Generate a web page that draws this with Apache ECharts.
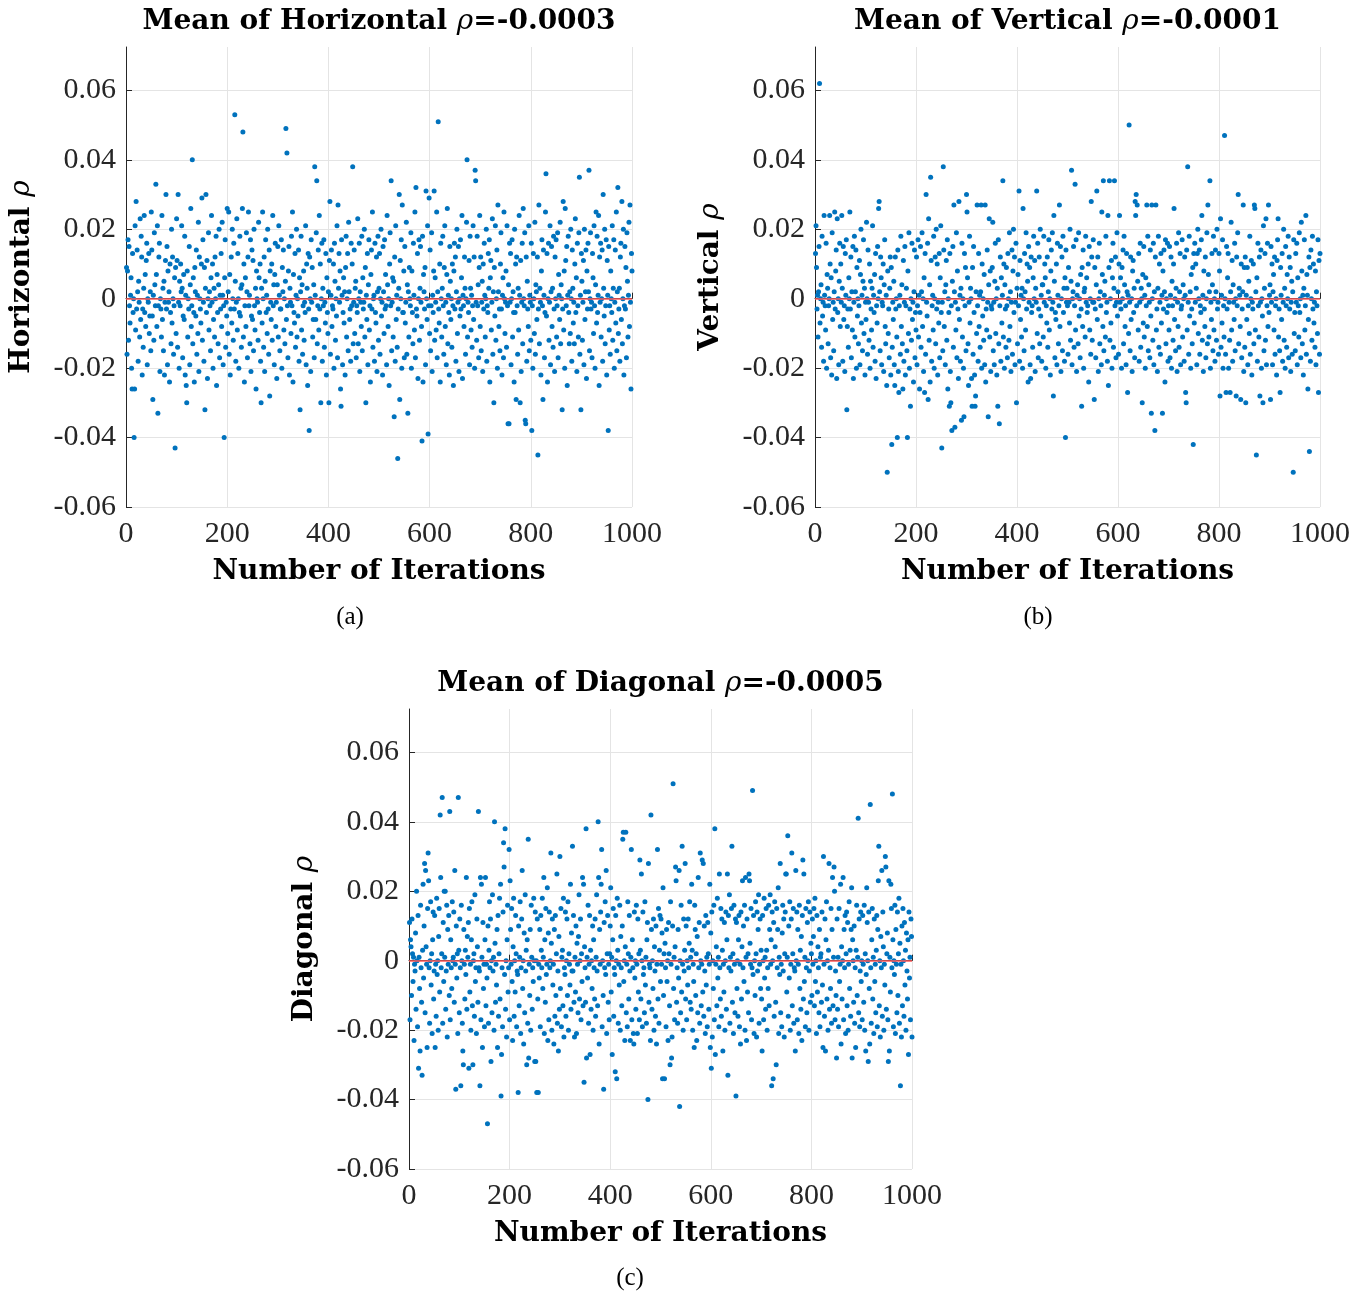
<!DOCTYPE html>
<html>
<head>
<meta charset="utf-8">
<script src="https://cdn.jsdelivr.net/npm/echarts@6/dist/echarts.min.js"></script>
<style>
  html, body { margin: 0; background: #fff; }
  #chart { width: 1370px; height: 1295px; }
</style>
</head>
<body>
<div id="chart"></div>
<script>
// rho per iteration (iteration = index + 1), values in units of 1e-3
var horizontalRho = [
  9,-16,8,17,-12,15,-2,-7,1,6,-20,-26,13,-4,0,-40,-26,21,-9,28,-3,14,2,-18,5,-1,-11,23,-6,18,12,-22,-3,-14,3,24,-4,7,-8,11,16,-19,0,-1,13,-10,-5,2,-15,25,
  14,-5,-29,1,-12,19,4,-2,33,7,-8,21,-33,-2,12,16,-21,0,-3,-11,24,-6,3,-15,5,-22,-1,11,30,-3,15,-19,8,-1,2,-24,10,-4,-13,20,-7,12,0,-16,-2,6,-43,9,-10,23,
  11,-14,30,-1,-20,5,-2,10,2,21,3,-17,-5,7,-6,18,-22,1,-25,-30,8,-11,0,-3,15,-19,4,26,-8,-2,40,-13,6,-4,-24,9,2,-5,14,-16,1,-10,22,-21,12,0,-3,-7,10,29,
  -12,17,-1,-18,9,-32,3,30,-4,11,-23,0,19,-9,2,-2,-15,6,24,-1,10,-20,-6,3,-11,12,0,18,-25,7,-4,-13,4,20,-17,1,-3,13,-8,22,1,-19,-2,-40,6,17,-14,-1,-5,26,
  -10,2,25,-16,7,-22,-3,12,-7,20,0,-12,16,-3,53,5,-18,-1,23,-9,13,0,-20,-4,18,-5,3,-14,4,26,48,-11,10,-24,-2,6,-8,19,2,-17,12,25,-2,1,-13,17,-21,-5,14,-6,
  11,-15,20,-2,-9,3,-26,8,0,-1,-12,22,6,-4,10,-18,-30,3,-7,25,0,-14,12,-21,5,17,-4,1,-10,20,-3,-16,14,-28,8,-1,-6,10,-12,24,-2,4,-19,7,16,-8,-1,-23,4,15,
  -11,21,1,-15,-3,-3,17,-20,9,2,14,-9,0,-13,5,49,-6,42,-2,-17,8,15,-22,3,-1,-10,18,-2,25,-24,7,-4,-7,13,-14,1,20,-11,0,-5,14,-18,6,-32,2,18,-9,4,-16,-2,
  8,-12,-1,-4,21,-19,10,3,-25,13,-3,-38,12,0,-21,17,-1,9,-11,-6,4,-17,38,1,-6,19,34,-13,-2,14,-9,24,-3,10,-30,0,16,-18,3,-2,17,-14,-1,-7,13,-22,6,-4,-10,2,
  -30,11,28,-16,1,14,-8,-2,-3,10,-20,16,5,-12,0,-5,21,-17,27,3,13,-1,8,-26,-31,17,1,-19,-4,6,-7,2,-22,9,18,-11,0,13,-15,22,2,-6,-3,-18,16,-2,10,38,-13,-1,
  14,-10,3,5,-17,-2,-4,23,-13,0,16,-21,2,-1,-8,18,-15,6,-3,-1,20,-11,9,-30,1,-6,13,-19,4,17,-9,-2,-24,7,14,-3,25,-14,0,1,-18,16,-4,-7,12,-21,2,18,-12,3,
  13,-16,0,20,-5,-1,-22,15,2,-10,17,-3,7,-2,-19,24,4,-8,0,-25,10,19,-2,34,-15,-1,6,-11,5,-34,12,-18,21,-6,1,-14,-46,-3,3,30,-29,11,0,17,-20,27,-4,-4,8,-17,
  15,-7,-1,22,-16,4,-33,2,-11,9,0,-2,19,-20,8,-4,-13,16,1,-9,25,-17,32,-3,-5,13,-23,0,17,-12,3,15,-1,-8,-41,18,-24,7,2,-3,9,-19,31,0,-6,21,-39,-2,29,-10,
  14,-15,-2,19,-21,1,-4,8,31,-12,6,-1,-9,25,-17,2,51,-3,-7,10,-24,16,0,-11,3,18,-2,-16,9,21,-8,-1,-19,7,26,-13,1,-4,-22,15,5,-6,0,-14,10,-2,-25,8,16,-3,
  12,-18,2,20,-10,-1,15,-21,0,-5,17,-3,6,24,-23,1,-2,-8,12,3,-16,0,22,40,-11,-1,-4,11,-19,18,3,-9,1,-14,-2,21,-6,12,-20,37,34,-1,-12,18,-2,4,-17,9,24,-8,
  12,-15,-1,5,-21,10,-3,16,1,-11,0,20,-18,-2,-4,13,3,17,-24,6,11,-9,-1,23,-16,2,-30,9,-5,21,-12,0,14,-20,27,2,-8,-3,-15,10,19,-3,-22,1,6,-17,25,0,-10,-1,
  8,-14,21,-2,-36,4,-36,16,-1,13,-19,0,17,-11,2,-4,-24,20,-4,10,-29,12,-2,-16,3,-9,24,1,-30,11,-21,-1,16,-13,26,0,-2,19,-35,-36,12,-18,5,-3,-8,21,-15,1,-1,-12,
  16,-38,-2,-20,13,0,-10,22,-16,4,2,-6,12,-45,-3,27,-13,3,-1,-22,8,17,-2,-29,14,1,-17,-4,25,36,-5,13,-24,0,16,-12,-1,21,-19,2,15,-8,3,-14,18,-3,-21,12,0,17,
  -11,-2,19,-17,7,1,-6,22,-13,4,0,-32,-3,28,-9,8,-20,26,11,-2,15,-25,1,18,-4,-13,2,-10,20,0,-18,14,3,-7,-1,-13,10,23,-4,6,-21,16,-2,-11,19,35,-16,1,-32,13,
  5,-12,-1,11,-19,20,-6,2,14,-23,8,-3,16,2,37,-15,0,19,-3,-1,-17,13,6,-10,21,-2,-20,4,25,-7,18,-4,1,24,-25,12,-1,16,-11,0,14,-18,30,3,-5,20,-13,-2,17,-22,
  11,1,-38,15,-9,-2,-16,8,0,-4,21,-12,3,17,-20,-1,14,-7,25,-15,2,32,-10,-3,3,-18,12,16,-6,28,-13,0,20,-22,-2,15,-3,9,-17,19,5,-11,1,22,-8,27,-1,-26,13,8
];

var verticalRho = [
  13,21,9,-3,1,-11,2,15,62,-7,0,4,-14,18,-5,-1,-18,24,1,-2,-9,16,-20,7,3,-13,-2,0,24,10,-17,6,-22,19,-6,-1,-15,2,25,-3,8,14,-23,23,-4,0,-19,5,16,-8,
  10,-1,24,3,-18,15,-6,-2,-21,13,1,17,-32,-8,-3,-14,6,0,25,-3,12,-17,2,-9,15,-23,-1,18,-11,2,14,-20,9,-5,0,-13,-2,11,-19,7,20,-7,1,-15,5,17,-10,3,-22,-1,
  -6,22,0,-16,14,-1,-12,10,-20,5,-3,-9,3,21,-14,1,-4,7,-18,13,-23,-2,-7,15,0,26,28,2,-15,12,6,-19,-1,-2,10,-21,4,17,-8,-13,1,-25,-50,8,-10,-3,-17,3,12,-22,
  9,-42,-14,-1,-6,5,-19,-25,12,-3,0,-11,-40,14,-21,-27,-2,1,-16,18,-8,4,-13,-26,11,-18,-1,15,-22,-2,3,-15,-40,8,-10,19,-20,-3,-31,0,-12,16,-6,-1,-24,2,14,-17,-4,-9,
  12,-19,-2,17,-11,1,-26,-4,15,-14,2,19,-8,0,-21,6,-27,13,-16,30,-1,-5,16,-29,23,-12,4,-24,35,11,-18,-2,1,-9,18,-20,0,12,-13,20,-3,10,-22,-1,-7,13,-17,6,21,-4,
  -43,-1,-15,38,14,-8,2,-19,4,11,-12,17,-26,0,-4,-31,13,-21,-30,-2,-38,5,15,-14,27,2,-37,-1,-9,19,-17,8,-3,-23,28,-6,1,-18,3,-35,16,-11,0,-20,-34,13,-2,9,-15,30,
  25,6,-13,-25,-1,18,-7,3,0,-23,-31,9,-16,15,-4,-22,-31,-28,2,-10,27,-2,-18,13,-8,1,-14,2,27,-20,10,-5,0,-12,7,-19,27,-24,-3,-9,14,-1,-34,4,23,-11,8,-21,-2,-3,
  9,22,-15,-1,-19,5,16,-10,0,-22,3,-31,17,-13,-36,-2,12,-18,6,-7,1,34,-11,10,-20,4,-3,-14,9,-2,-17,13,0,-12,19,-8,2,-21,-1,14,-16,8,20,-4,12,-19,-1,16,-30,3,
  -13,7,-2,31,-18,11,-6,1,-11,3,-20,26,0,-15,13,2,-9,19,-3,10,5,-24,15,-1,9,-19,-23,12,-4,-2,-14,6,18,0,11,-21,3,-1,31,-10,16,-17,-3,12,-13,20,-5,1,-18,4,
  4,-11,18,-1,10,6,-20,-2,-7,12,-14,2,17,-9,0,-22,8,14,-3,19,-1,-28,24,5,-17,-4,-6,10,-19,16,1,-13,-2,27,-8,15,-21,0,12,-15,18,-4,3,-18,6,-40,14,-1,3,-2,
  -16,9,-1,-7,20,-12,5,37,-19,0,2,15,-14,-2,33,-9,17,-21,1,4,-13,19,-5,0,-17,7,-3,-31,9,-8,14,-20,2,3,-11,18,-1,6,-4,-2,10,-24,15,-9,0,-16,28,12,-12,-1,
  17,-1,-29,9,-3,-17,4,31,-6,12,-21,0,16,-13,2,-2,-19,25,7,-8,34,-15,1,5,-11,18,-4,-1,-18,24,-25,9,34,-12,0,-7,11,-20,6,16,-14,3,34,-2,12,-17,-1,19,-5,2,
  -16,10,24,-1,6,-3,-20,9,0,14,-13,18,4,-8,-2,-19,13,2,-27,1,-10,50,-1,-15,12,-6,0,-21,8,11,-4,3,-17,28,24,30,-2,27,5,-9,13,-18,-1,16,-14,3,0,-30,7,-7,
  15,-11,1,-20,6,-2,27,-8,18,-15,4,-1,-17,14,-5,-33,27,0,-12,16,-19,2,-38,12,27,-9,-3,-21,3,18,-14,10,-1,-16,13,-7,1,-33,8,-3,14,2,-24,17,-13,0,-4,16,-18,-2,
  -9,15,-17,1,12,-20,5,-2,-12,10,26,-6,0,-15,3,16,-21,-1,-8,19,-14,2,13,-19,-3,-2,17,-11,4,0,-18,12,1,-27,-30,14,-9,38,-1,-16,18,-5,2,-20,7,-3,-13,9,-42,13,
  -7,16,-1,10,3,-19,13,20,-10,0,14,-16,-2,-4,17,24,-12,1,-21,8,-3,-8,12,-17,0,19,-13,27,7,-11,2,34,-20,-1,-6,13,4,-15,18,-9,0,-18,14,2,-12,20,-3,-1,-16,13,
  8,-28,23,-14,1,-7,17,-20,-2,-11,47,0,-16,-27,15,-3,6,13,-20,-1,-12,-27,2,22,-9,11,-18,4,-1,-6,16,-15,0,-28,12,-2,19,30,-13,3,1,-8,-29,10,-17,-3,2,27,-21,9,
  -14,12,-30,1,-6,9,-19,-2,5,-10,18,-16,0,11,-22,-1,-3,10,-13,27,26,-9,2,-45,6,-18,16,-2,-11,12,-28,-1,14,-20,0,-5,-30,21,-15,3,13,-12,23,-19,-2,16,-8,27,-4,1,
  4,-29,15,-1,10,-19,2,7,-9,12,-16,-2,0,-22,11,17,23,-11,-3,-15,-27,9,1,-6,13,-18,-1,20,-12,3,-20,15,-2,-14,7,0,18,-17,12,-3,9,-21,-1,5,-16,2,-50,17,-10,-4,
  -15,13,-1,16,-19,6,-2,-11,19,-4,0,-17,22,8,-13,1,-22,3,17,-9,-2,24,-16,7,1,-26,-6,12,-44,9,-18,14,0,-12,18,-3,10,-7,-1,-14,8,-19,2,-2,-10,17,-27,11,-16,13
];

var diagonalRho = [
  11,-17,6,4,-10,12,2,-6,1,-23,-1,-3,8,-14,20,0,-19,13,-31,1,-8,-26,16,-2,-12,-33,3,22,-5,10,28,-15,26,4,-1,-25,15,31,23,-2,-18,0,17,-7,2,-21,6,14,-11,-3,
  13,-25,-1,-16,18,-4,0,-20,7,15,-9,42,24,-2,2,47,-18,11,-6,20,1,20,-14,-3,16,-22,9,-1,13,-10,43,-17,6,-2,-8,17,0,1,14,-12,26,-1,-37,10,-5,2,-21,47,3,-15,
  12,-2,-36,16,0,-18,-26,-30,9,-1,-11,3,-4,24,-14,7,1,11,-31,15,-9,-1,-20,6,17,-13,-30,0,2,-16,19,-6,-2,-21,12,4,-12,43,-2,-3,-36,24,-17,22,1,-25,11,-8,-1,-19,
  6,24,-13,-1,-5,-47,10,-18,3,17,-2,12,-29,0,-15,19,-3,1,-20,40,5,-12,-1,-7,9,-25,13,-16,2,18,-11,22,-39,-27,-2,-19,14,34,27,-4,38,-14,0,-22,6,16,-9,-2,32,-17,
  23,9,-1,15,-6,-23,4,18,-16,0,-9,13,2,-19,-3,-4,-38,10,-13,1,17,-21,-2,12,26,-8,0,-24,8,-15,19,-3,3,-30,6,-18,35,-28,-1,-10,9,-20,16,1,-14,-2,-6,18,0,-29,
  14,-29,0,-38,12,-11,-38,-1,-5,9,-19,13,3,-2,18,-8,1,24,-21,6,-12,15,-4,-1,21,-23,8,-17,14,-2,0,31,5,-20,12,-7,-1,-24,9,-16,13,-10,2,25,-18,-3,-26,7,-14,30,
  -8,15,-19,1,3,-13,18,-22,-2,-4,14,-16,0,12,-10,17,-20,2,-1,-7,22,-14,8,-3,33,-3,13,-12,-22,1,-9,10,-21,5,-1,-15,7,19,-11,0,12,-17,2,-6,24,-13,22,-35,4,-2,
  -12,38,-28,1,-5,16,-18,-1,13,-27,3,-14,0,-8,10,-20,6,-2,-11,12,-16,1,19,-3,-13,40,24,-24,9,-1,14,22,32,-19,0,-10,-37,11,-2,17,-4,26,-21,2,13,-12,-1,-17,2,10,
  21,-9,1,-27,6,15,-16,-2,-4,-32,13,0,-34,18,3,-18,-1,-7,16,-20,7,-2,-13,10,35,37,-6,0,-23,4,37,-15,-1,-19,17,2,-11,13,-3,-23,1,32,-17,6,-2,-21,-24,14,-5,0,
  -14,16,-1,-21,12,-9,2,-17,29,3,-11,25,0,-19,14,-4,-2,-15,17,-7,1,-18,6,11,-40,28,-12,-1,-2,-23,42,9,-14,0,-8,12,-20,4,-3,-16,10,-24,-1,32,-11,15,-18,3,13,-6,
  12,-1,8,-34,21,-10,2,-34,5,-2,-19,9,-6,0,-23,11,2,-13,-30,17,-1,-28,-22,10,51,-8,1,-17,4,27,23,-12,-2,-18,9,-5,26,-42,0,-15,16,-9,33,-1,-20,12,-3,3,28,-11,
  10,-17,0,-7,12,-2,5,17,-12,1,-14,22,3,-20,-1,-6,-25,16,9,-10,2,-23,7,-15,24,-2,11,-18,31,0,-13,-1,29,-9,28,-16,10,-3,-21,13,-7,1,-19,11,2,-14,-1,22,-25,8,
  -31,14,-22,0,-8,16,-17,38,-27,-1,4,-13,18,-5,1,-19,25,-2,-11,15,-16,12,3,-26,-1,-9,11,-20,0,14,-14,6,25,-33,13,-2,19,-18,1,-3,15,33,-12,2,-21,16,-1,-15,12,-39,
  11,-8,0,-16,6,13,-19,-1,-24,14,-11,4,23,-2,10,-6,16,-20,24,1,-23,12,-9,2,-15,25,23,5,-1,15,-17,-2,49,-4,13,-21,0,-10,17,2,-22,14,-3,9,19,-18,-1,12,-8,3,
  -11,-26,13,0,-17,18,-5,1,-14,15,3,-20,-2,-8,16,-13,9,19,-1,6,-36,14,0,-34,11,-16,17,4,-12,-30,15,-2,9,21,-21,1,-4,28,-15,-1,-19,8,16,-3,12,-22,2,14,25,25,
  -9,1,36,-16,10,-5,17,-20,-1,12,31,-13,2,15,-18,-2,-3,-26,26,0,14,-17,9,-1,-21,16,-8,3,-14,7,-23,13,29,-11,25,-6,1,-19,15,-2,-15,11,0,17,-20,-3,14,-12,5,2,
  -10,12,-1,7,15,-13,18,-6,0,-21,13,-9,4,-2,-15,9,-19,1,2,-12,14,-7,-25,30,-1,-16,12,-26,6,17,-11,0,-20,3,28,-14,-2,-8,15,-18,9,24,-13,1,27,20,-17,-3,-10,-28,
  12,-14,1,-19,15,-6,-1,22,-24,4,-11,0,24,-17,9,-2,13,-21,2,14,-13,11,-20,-1,17,-8,3,-16,9,21,-28,6,0,-12,10,-18,-2,-25,3,16,-10,1,41,-15,12,-19,-3,14,-6,0,
  -17,13,-1,-12,16,-20,2,-26,-4,21,11,0,-29,14,-8,-24,45,-2,-18,6,15,-11,1,-21,12,-6,-1,-15,3,13,-19,9,23,33,-13,0,-22,7,-2,26,-16,14,4,-20,-1,-7,30,27,-14,2,
  8,-17,-29,23,-26,1,-9,22,15,-2,48,6,-19,0,-4,16,-21,9,-1,-15,14,-10,2,18,-18,5,-36,-1,-22,10,-13,15,0,-16,11,-7,3,-20,8,-3,-11,6,-27,14,-5,1,-17,12,7,-22
];

var panelNames = ['Horizontal', 'Vertical', 'Diagonal'];
var meanRho = ['-0.0003', '-0.0001', '-0.0005'];
var subCaptions = ['(a)', '(b)', '(c)'];
var xTicks = [0, 200, 400, 600, 800, 1000];
var yTicks = [-0.06, -0.04, -0.02, 0, 0.02, 0.04, 0.06];

var allRho = [horizontalRho, verticalRho, diagonalRho];

// panel layout (pixels)
var grids = [
  { left: 126, top: 47, width: 506, height: 460 },
  { left: 815, top: 47, width: 505, height: 460 },
  { left: 409, top: 709, width: 503, height: 460 }
];
var captionPos = [[350, 617], [1038, 617], [630, 1278]];

var axisColor = '#262626';
var boldFont = 'DejaVu Serif';
var tickFont = 'Liberation Serif';

var rich = {
  b: { fontFamily: boldFont, fontWeight: 'bold', fontSize: 28, color: '#000' },
  i: { fontFamily: boldFont, fontStyle: 'italic', fontWeight: 'normal', fontSize: 28, color: '#000' }
};

var chart = echarts.init(document.getElementById('chart'), null, { renderer: 'canvas' });

var option = {
  animation: false,
  backgroundColor: '#fff',
  title: [],
  grid: [],
  xAxis: [],
  yAxis: [],
  series: [],
  graphic: []
};

allRho.forEach(function (rho, g) {
  var gr = grids[g];
  option.grid.push({
    left: gr.left, top: gr.top, width: gr.width, height: gr.height,
    containLabel: false, outerBoundsMode: 'none'
  });

  option.title.push({
    text: '{b|Mean of ' + panelNames[g] + ' }{i|ρ}{b|=' + meanRho[g] + '}',
    left: gr.left + gr.width / 2,
    top: gr.top - 39,
    padding: 0,
    textAlign: 'center',
    textStyle: { rich: rich }
  });

  option.xAxis.push({
    gridIndex: g,
    type: 'value',
    min: xTicks[0],
    max: xTicks[xTicks.length - 1],
    interval: 200,
    name: 'Number of Iterations',
    nameLocation: 'middle',
    nameGap: 51,
    nameTextStyle: { fontFamily: boldFont, fontWeight: 'bold', fontSize: 28, color: '#000' },
    axisLine: { show: true, lineStyle: { color: axisColor, width: 1 } },
    axisTick: { show: true, inside: true, length: 6, lineStyle: { color: axisColor } },
    axisLabel: {
      fontFamily: tickFont, fontSize: 30, color: axisColor, margin: 12,
      formatter: function (v) { return String(v); }
    },
    splitLine: { show: true, lineStyle: { color: '#e4e4e4', width: 1 } }
  });

  option.yAxis.push({
    gridIndex: g,
    type: 'value',
    min: yTicks[0],
    max: 0.0725,
    interval: 0.02,
    name: '{b|' + panelNames[g] + ' }{i|ρ}',
    nameLocation: 'middle',
    nameRotate: 90,
    nameGap: 90,
    nameTextStyle: { rich: rich },
    axisLine: { show: true, lineStyle: { color: axisColor, width: 1 } },
    axisTick: { show: true, inside: true, length: 6, lineStyle: { color: axisColor } },
    axisLabel: {
      fontFamily: tickFont, fontSize: 30, color: axisColor, margin: 10,
      showMaxLabel: false,
      formatter: function (v) {
        var hit = yTicks.filter(function (t) { return Math.abs(t - v) < 1e-9; });
        if (!hit.length) return '';
        return hit[0] === 0 ? '0' : hit[0].toFixed(2);
      }
    },
    splitLine: { show: true, showMaxLine: false, lineStyle: { color: '#e4e4e4', width: 1 } }
  });

  option.series.push({
    type: 'scatter',
    xAxisIndex: g,
    yAxisIndex: g,
    symbol: 'circle',
    symbolSize: 5,
    itemStyle: { color: '#0072BD', opacity: 1 },
    emphasis: { disabled: true },
    data: rho.map(function (v, k) { return [k + 1, v / 1000]; }),
    markLine: {
      silent: true,
      symbol: 'none',
      label: { show: false },
      lineStyle: { color: '#ff5a5a', width: 1.5, type: 'solid' },
      data: [{ yAxis: 0 }]
    }
  });

  option.graphic.push({
    type: 'text',
    x: captionPos[g][0],
    y: captionPos[g][1],
    style: {
      text: subCaptions[g],
      font: '25px "Liberation Serif"',
      fill: '#000',
      textAlign: 'center',
      textVerticalAlign: 'middle'
    }
  });
});

chart.setOption(option);
</script>
</body>
</html>
